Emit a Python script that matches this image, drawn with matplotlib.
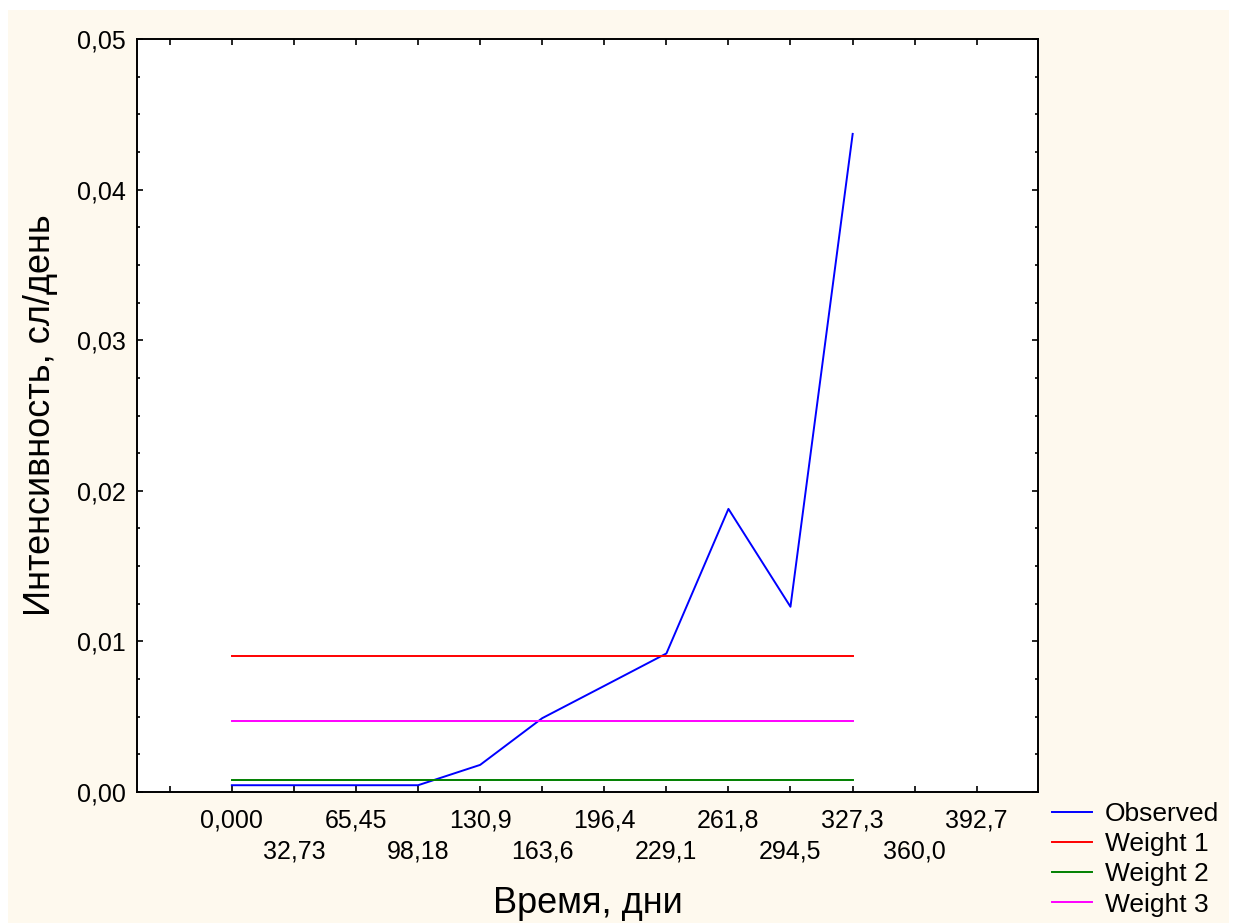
import matplotlib

matplotlib.use("Agg")

import matplotlib.pyplot as plt
from matplotlib.patches import Rectangle
from matplotlib.ticker import FixedLocator, FixedFormatter, MultipleLocator, FuncFormatter

# time points (days) and observed intensity
DAYS = [0.0, 32.73, 65.45, 98.18, 130.9, 163.6, 196.4, 229.1, 261.8, 294.5, 327.3]
OBSERVED = [0.00045, 0.00045, 0.00045, 0.00045, 0.0018, 0.0049, 0.00705,
            0.0092, 0.0188, 0.0123, 0.0437]
WEIGHT_1 = 0.00905
WEIGHT_2 = 0.0008
WEIGHT_3 = 0.00473

# x tick values shown in two staggered rows
TICKS_ROW1 = [0.0, 65.45, 130.9, 196.4, 261.8, 327.3, 392.7]
LABELS_ROW1 = ["0,000", "65,45", "130,9", "196,4", "261,8", "327,3", "392,7"]
TICKS_ROW2 = [-32.73, 32.73, 98.18, 163.6, 229.1, 294.5, 360.0]
LABELS_ROW2 = ["", "32,73", "98,18", "163,6", "229,1", "294,5", "360,0"]

plt.rcParams.update({
    "font.family": ["Liberation Sans", "DejaVu Sans"],
    "font.size": 18,
})

W, H = 1235, 923
fig = plt.figure(figsize=(W / 100, H / 100), dpi=100, facecolor="white")
fig.patches.append(Rectangle((8 / W, 0), (1229 - 8) / W, (H - 10) / H,
                             transform=fig.transFigure, facecolor="#FEF9EE",
                             edgecolor="none", zorder=-10))

ax = fig.add_axes([137 / W, 1 - 792 / H, (1038 - 137) / W, (792 - 39) / H])
ax.set_facecolor("white")

ax.plot(DAYS, OBSERVED, color="#0000FF", lw=1.4, label="Observed")
ax.plot([DAYS[0], DAYS[-1]], [WEIGHT_1, WEIGHT_1], color="#FF0000", lw=1.4, label="Weight 1")
ax.plot([DAYS[0], DAYS[-1]], [WEIGHT_2, WEIGHT_2], color="#008000", lw=1.4, label="Weight 2")
ax.plot([DAYS[0], DAYS[-1]], [WEIGHT_3, WEIGHT_3], color="#FF00FF", lw=1.4, label="Weight 3")

ax.set_xlim(-50.0, 425.0)
ax.set_ylim(0.0, 0.05)

ax.xaxis.set_major_locator(FixedLocator(TICKS_ROW1))
ax.xaxis.set_major_formatter(FixedFormatter(LABELS_ROW1))
ax.xaxis.set_minor_locator(FixedLocator(TICKS_ROW2))
ax.xaxis.set_minor_formatter(FixedFormatter(LABELS_ROW2))

ax.yaxis.set_major_locator(MultipleLocator(0.01))
ax.yaxis.set_minor_locator(MultipleLocator(0.0025))
ax.yaxis.set_major_formatter(FuncFormatter(lambda v, p: f"{v:.2f}".replace(".", ",")))

for s in ax.spines.values():
    s.set_linewidth(1.4)

ax.tick_params(axis="both", which="both", direction="in", top=True, right=True,
               width=1.2, labelsize=18, colors="black")
ax.tick_params(axis="x", which="major", length=4.5, pad=12)
ax.tick_params(axis="x", which="minor", length=4.5, pad=34)
ax.tick_params(axis="y", which="major", length=4.5, pad=8)
ax.tick_params(axis="y", which="minor", length=2)

fig.text(588 / W, 1 - 913 / H, "Время, дни", ha="center", va="baseline", fontsize=26)
ax.set_ylabel("Интенсивность, сл/день", fontsize=26, labelpad=14)

fig.legend(loc="upper left", bbox_to_anchor=(1052 / W, 1 - 802 / H), frameon=False,
           fontsize=19, handlelength=1.52, handletextpad=0.49, labelspacing=0.235,
           borderaxespad=0, borderpad=0)

fig.savefig("out.png", dpi=100, facecolor=fig.get_facecolor())
